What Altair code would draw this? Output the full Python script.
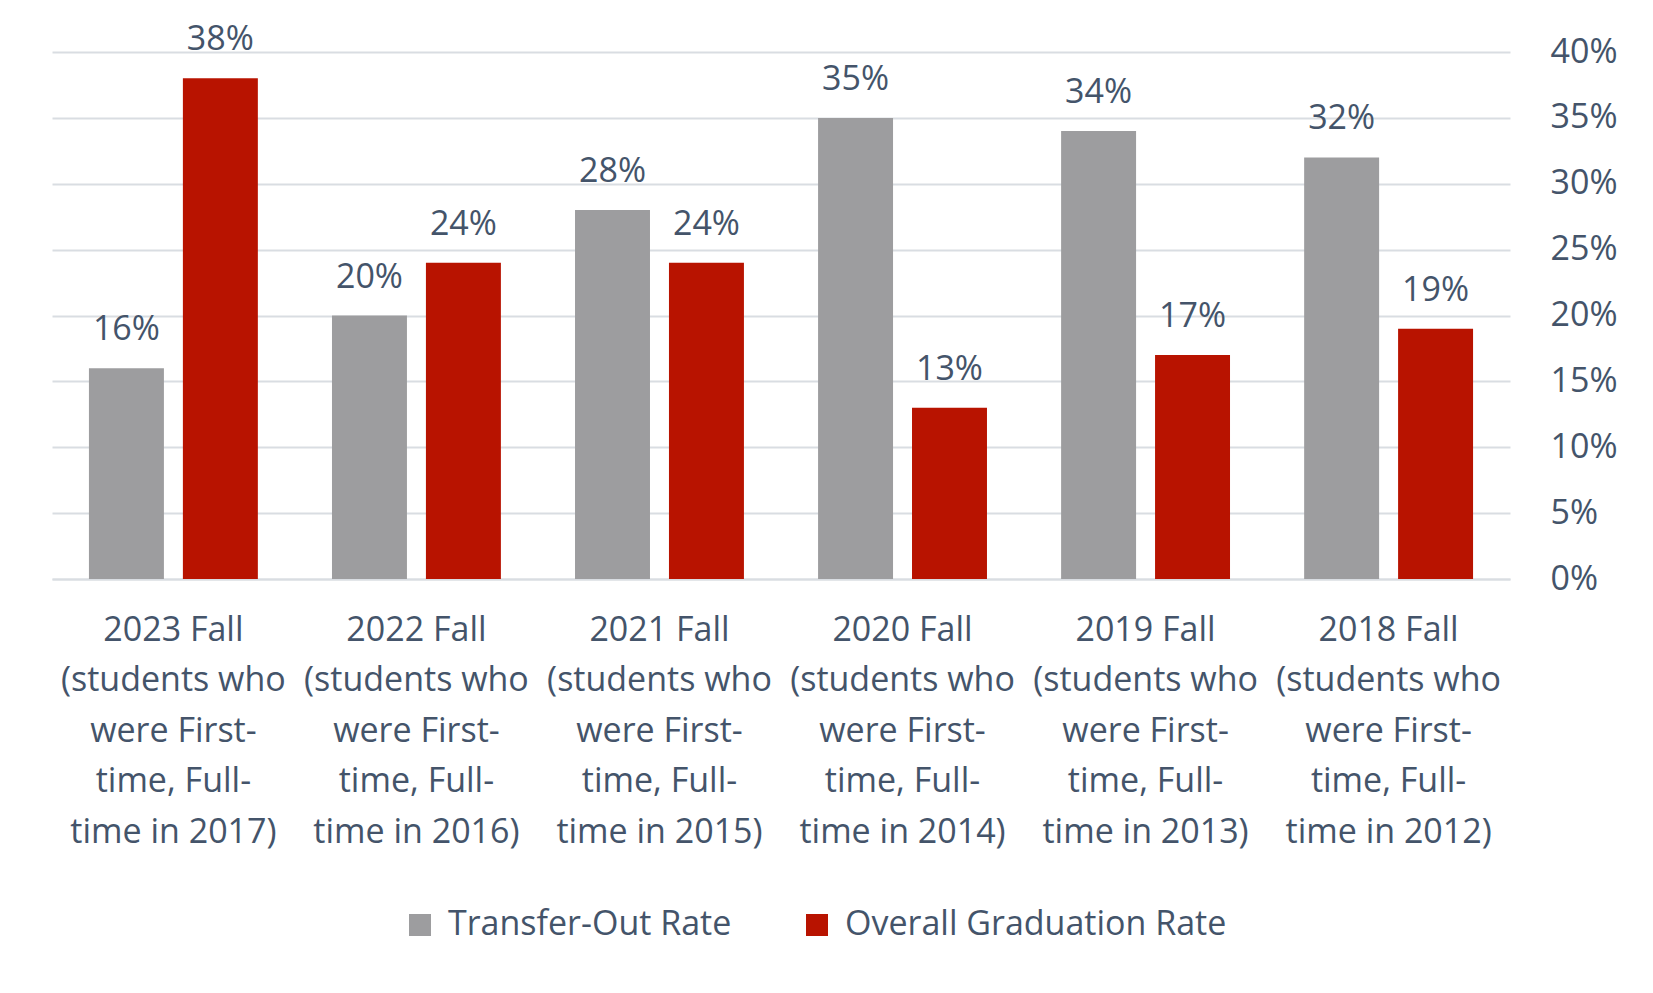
import altair as alt
import pandas as pd

# ---- data ----
cohort_lines = [
    ["2023 Fall", "(students who", "were First-", "time, Full-", "time in 2017)"],
    ["2022 Fall", "(students who", "were First-", "time, Full-", "time in 2016)"],
    ["2021 Fall", "(students who", "were First-", "time, Full-", "time in 2015)"],
    ["2020 Fall", "(students who", "were First-", "time, Full-", "time in 2014)"],
    ["2019 Fall", "(students who", "were First-", "time, Full-", "time in 2013)"],
    ["2018 Fall", "(students who", "were First-", "time, Full-", "time in 2012)"],
]
transfer_out_rate = [16, 20, 28, 35, 34, 32]
graduation_rate = [38, 24, 24, 13, 17, 19]
series_names = ["Transfer-Out Rate", "Overall Graduation Rate"]
y_ticks = [0, 5, 10, 15, 20, 25, 30, 35, 40]

FONT = "Open Sans"
TEXT = "#44546A"
GRID = "#D9DDE2"
COLORS = ["#9D9D9F", "#B81300"]

cohorts = ["|".join(lines) for lines in cohort_lines]
rows = []
for c, t, g in zip(cohorts, transfer_out_rate, graduation_rate):
    rows.append({"cohort": c, "series": series_names[0], "value": t, "label": f"{t}%"})
    rows.append({"cohort": c, "series": series_names[1], "value": g, "label": f"{g}%"})
df = pd.DataFrame(rows)

base = alt.Chart(df).encode(
    x=alt.X(
        "cohort:N",
        sort=cohorts,
        scale=alt.Scale(paddingInner=0.305, paddingOuter=0.152),
        axis=alt.Axis(
            title=None,
            labelExpr="split(datum.label, '|')",
            labelAngle=0,
            labelFont=FONT,
            labelFontSize=34,
            labelLineHeight=50.6,
            labelPadding=34,
            labelColor=TEXT,
            labelLimit=0,
            ticks=False,
            domainColor=GRID,
            domainWidth=2,
        ),
    ),
    xOffset=alt.XOffset(
        "series:N", sort=series_names,
        scale=alt.Scale(paddingInner=0.202, paddingOuter=0),
    ),
    y=alt.Y(
        "value:Q",
        scale=alt.Scale(domain=[0, 40], nice=False),
        axis=alt.Axis(
            title=None,
            orient="right",
            values=y_ticks,
            labelExpr="datum.value + '%'",
            labelFont=FONT,
            labelFontSize=34,
            labelColor=TEXT,
            labelPadding=40,
            ticks=False,
            domain=False,
            grid=True,
            gridColor=GRID,
            gridWidth=2,
        ),
    ),
)

bars = base.mark_bar().encode(
    color=alt.Color(
        "series:N",
        sort=series_names,
        scale=alt.Scale(domain=series_names, range=COLORS),
        legend=alt.Legend(
            title=None,
            orient="none",
            legendX=351,
            legendY=856,
            direction="horizontal",
            symbolType="square",
            symbolSize=484,
            symbolStrokeWidth=0,
            labelFont=FONT,
            labelFontSize=34,
            labelColor=TEXT,
            labelOffset=11,
            columnPadding=68,
            labelLimit=0,
        ),
    )
)

labels = base.mark_text(
    baseline="alphabetic", dy=-28, fontSize=34, font=FONT, color=TEXT
).encode(text=alt.Text("label:N"))

chart = (
    alt.layer(bars, labels)
    .properties(
        width=1458,
        height=527,
        padding={"left": 52, "top": 52, "right": 143, "bottom": 414},
        autosize=alt.AutoSizeParams(type="none"),
        background="white",
    )
    .configure_view(stroke=None)
)

chart.save("out.html", embed_options={"renderer": "svg", "actions": False})
